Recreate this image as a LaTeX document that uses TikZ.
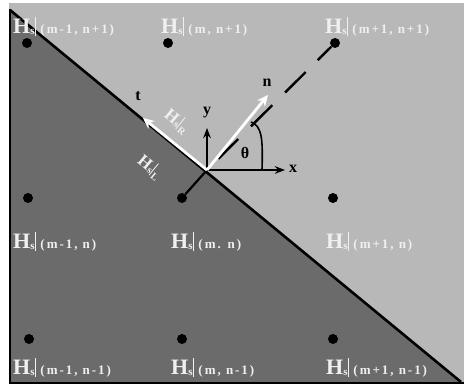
\documentclass[tikz,border=0pt]{standalone}
\usepackage{fontspec}
\setmainfont{Liberation Serif}
\newfontfamily\idxfont[LetterSpace=15]{Liberation Serif}
\usetikzlibrary{arrows.meta,calc}
\definecolor{lightbg}{gray}{0.72}
\definecolor{darkbg}{gray}{0.42}
\definecolor{labwhite}{gray}{0.94}
\newcommand{\Hs}[1]{{\fontsize{22}{22}\selectfont H}\raisebox{-1pt}{\fontsize{11}{11}\selectfont s}\rule[-3pt]{0.9pt}{19pt}\hspace{5pt}{\idxfont\bfseries\fontsize{13}{13}\selectfont #1}}
\newcommand{\Hside}[1]{{\fontsize{17}{17}\selectfont H}\raisebox{-1pt}{\fontsize{10}{10}\selectfont s}\rule[-2pt]{0.8pt}{15pt}\raisebox{-3pt}{\fontsize{10}{10}\selectfont\,#1}}

\begin{document}
\begin{tikzpicture}[x=1pt,y=1pt,>=Stealth,
 dot/.style={circle,fill=black,inner sep=0pt,minimum size=10pt},
 lab/.style={text=labwhite,font=\bfseries,anchor=west,inner sep=0pt},
 sidelab/.style={text=labwhite,font=\bfseries,inner sep=0pt,rotate=-39.4},
 axis/.style={->,line width=1.6pt},
 vec/.style={-{Stealth[length=11pt,width=10pt]},white,line width=2.8pt}]
\useasboundingbox (0,0) rectangle (464,387);
\fill[lightbg] (9,4) rectangle (464,384);
\fill[darkbg] (10,377) -- (10,4) -- (461,4) -- cycle;
\draw[line width=2.6pt] (10,378) -- (10,4) -- (464,4);
\draw[line width=2.6pt] (10,377) -- (461,5);
% grid points
\node[dot] (d11) at (27,344) {};
\node[dot] (d21) at (168,344) {};
\node[dot] (d31) at (335,344) {};
\node[dot] (d12) at (28,189) {};
\node[dot] (d22) at (182,189) {};
\node[dot] (d32) at (333,189) {};
\node[dot] (d13) at (29,48) {};
\node[dot] (d23) at (182,48) {};
\node[dot] (d33) at (333,48) {};
\node[lab] (l11) at (13,360) {\Hs{(m-1, n+1)}};
\node[lab] (l21) at (161,360) {\Hs{(m, n+1)}};
\node[lab] (l31) at (325,360) {\Hs{(m+1, n+1)}};
\node[lab] (l12) at (13,145) {\Hs{(m-1, n)}};
\node[lab] (l22) at (171,145) {\Hs{(m. n)}};
\node[lab] (l32) at (326,145) {\Hs{(m+1, n)}};
\node[lab] (l13) at (13,19) {\Hs{(m-1, n-1)}};
\node[lab] (l23) at (171,19) {\Hs{(m, n-1)}};
\node[lab] (l33) at (326,19) {\Hs{(m+1, n-1)}};
% local frame at the boundary
\coordinate (O) at (207,217);
\coordinate (xend) at (285,217);
\coordinate (yend) at (207,259);
\coordinate (tend) at (143,269);
\coordinate (nend) at (268,292);
\coordinate (tha) at (262,217);
\coordinate (thb) at (251,265);
\draw[line width=2.2pt] (d22) -- (O);
\foreach \a/\b in {16/44,62/92,110/139,156/175}
  \draw[line width=2.4pt] ($(O)!\a pt!(d31)$) -- ($(O)!\b pt!(d31)$);
\draw[axis] (O) -- (xend);
\draw[axis] (O) -- (yend);
\draw[vec] (O) -- (tend);
\draw[vec] (O) -- (nend);
\draw[line width=1.6pt] (tha) .. controls (263,248) and (262,261) .. (thb);
\node[font=\bfseries\fontsize{16}{16}\selectfont] (xl) at (293,218) {x};
\node[font=\bfseries\fontsize{16}{16}\selectfont] (yl) at (207,274) {y};
\node[font=\bfseries\fontsize{16}{16}\selectfont] (tl) at (138,291) {t};
\node[font=\bfseries\fontsize{16}{16}\selectfont] (nl) at (267,304) {n};
\node[font=\bfseries\fontsize{16}{16}\selectfont] (thl) at (245,234) {θ};
\node[sidelab] (hr) at (177,266) {\Hside{R}};
\node[sidelab] (hl) at (150,220) {\Hside{L}};
\end{tikzpicture}
\end{document}
